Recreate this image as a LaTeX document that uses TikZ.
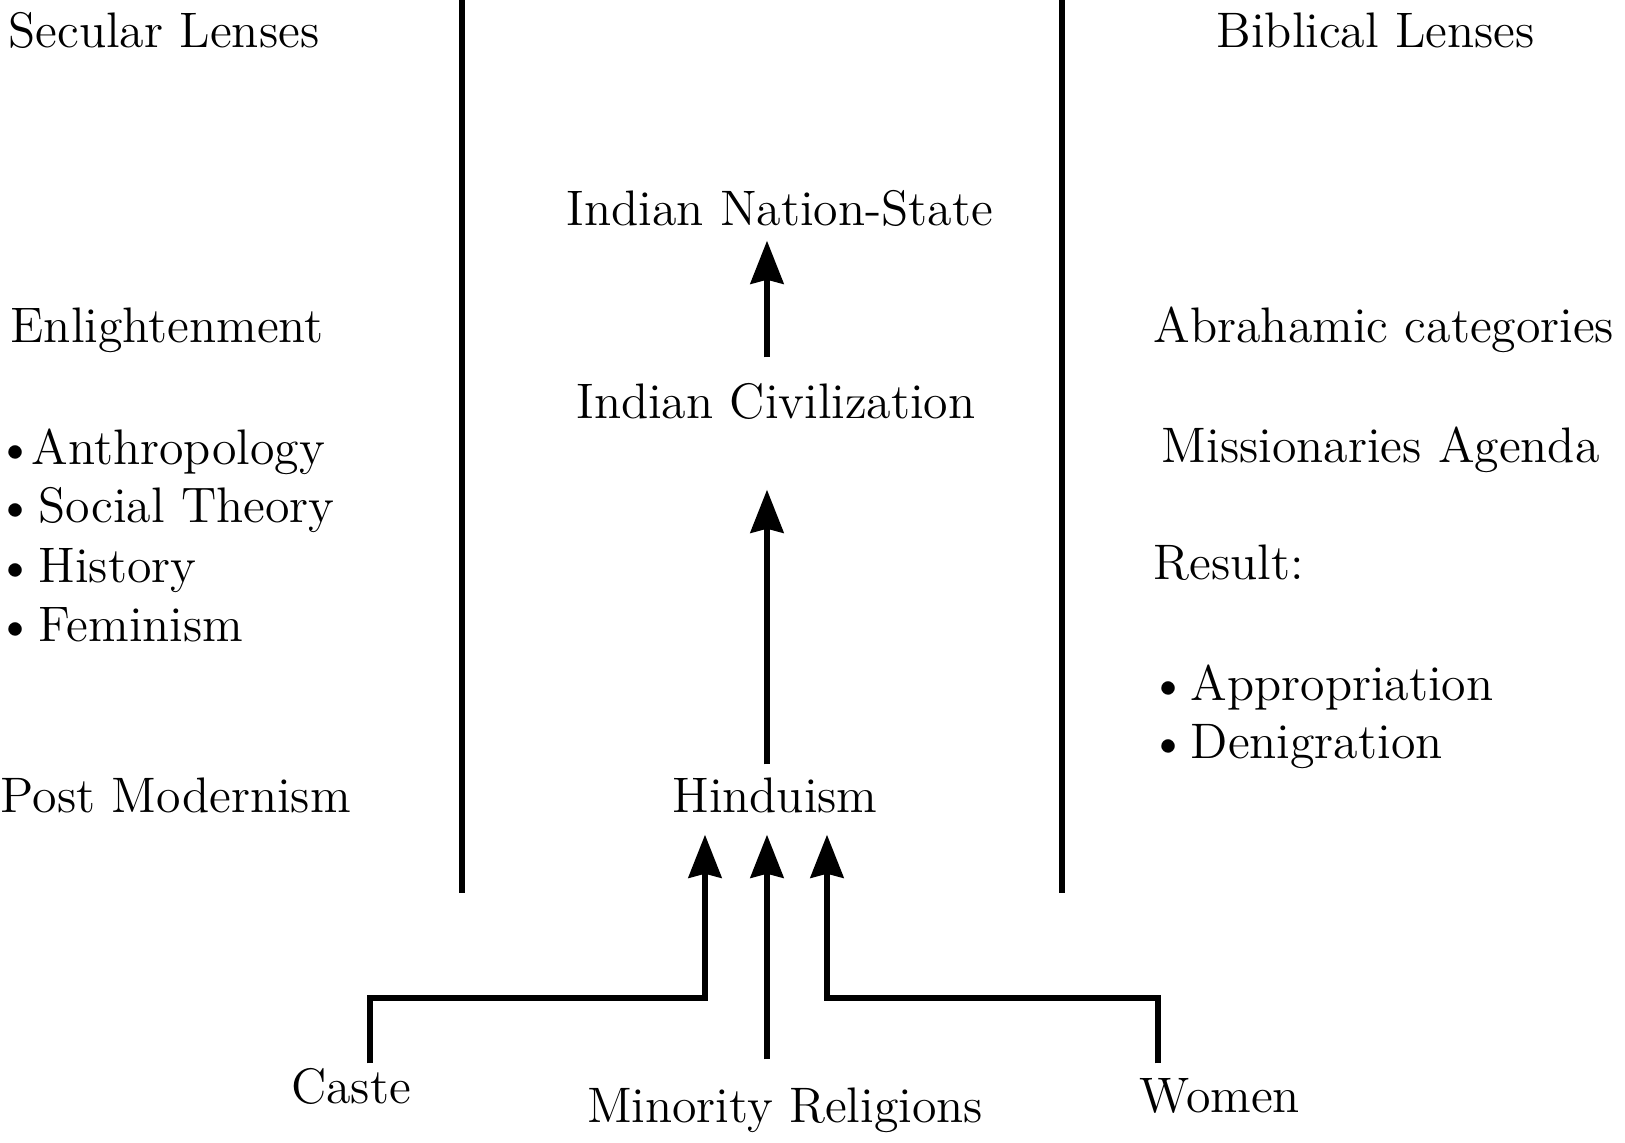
\documentclass[tikz,border=0pt]{standalone}
\usetikzlibrary{arrows.meta}
\begin{document}
\begin{tikzpicture}[
  txt/.style={inner sep=0pt,font=\fontsize{14.2}{16.5}\selectfont,text height=3.5mm,text depth=1.1mm},
  flow/.style={-{Stealth[length=4.3mm,width=3.3mm,inset=0.4mm]},line width=0.6mm},
  divider/.style={line width=0.6mm}
]
\useasboundingbox (0,0) rectangle (16.25,-11.42);
% column rules
\draw[divider] (4.62,0) -- (4.62,-8.93);
\draw[divider] (10.62,0) -- (10.62,-8.93);

% left column
\node[txt,anchor=base west] (secular) at (0.08,-0.47) {Secular Lenses};
\node[txt,anchor=base west] (enlight) at (0.10,-3.42) {Enlightenment};
\node[txt,anchor=base west] (anthro) at (0.08,-4.64) {\hspace{-1.2mm}\textbullet\hspace{-0.3mm}Anthropology};
\node[txt,anchor=base west] (social) at ([yshift=-5.8mm]anthro.base west) {\hspace{-1.2mm}\textbullet\hspace{0.4mm}Social Theory};
\node[txt,anchor=base west] (history) at ([yshift=-6mm]social.base west) {\hspace{-1.2mm}\textbullet\hspace{0.4mm}History};
\node[txt,anchor=base west] (feminism) at ([yshift=-5.9mm]history.base west) {\hspace{-1.2mm}\textbullet\hspace{0.4mm}Feminism};
\node[txt,anchor=base west] (postmod) at (0,-8.12) {Post Modernism};

% right column
\node[txt,anchor=base west] (biblical) at (12.16,-0.47) {Biblical Lenses};
\node[txt,anchor=base west] (abraham) at (11.53,-3.42) {Abrahamic categories};
\node[txt,anchor=base west] (mission) at (11.61,-4.62) {Missionaries Agenda};
\node[txt,anchor=base west] (result) at (11.53,-5.79) {Result:};
\node[txt,anchor=base west] (approp) at (11.61,-7.00) {\hspace{-1.2mm}\textbullet\hspace{0.3mm}Appropriation};
\node[txt,anchor=base west] (denig) at ([yshift=-5.8mm]approp.base west) {\hspace{-1.2mm}\textbullet\hspace{0.3mm}Denigration};

% centre column
\node[txt,anchor=base] (nation) at (7.80,-2.25) {Indian Nation-State};
\node[txt,anchor=base] (civ) at (7.76,-4.18) {Indian Civilization};
\node[txt,anchor=base] (hindu) at (7.75,-8.12) {Hinduism};
\node[txt,anchor=base] (caste) at (3.51,-11.03) {Caste};
\node[txt,anchor=base] (minority) at (7.85,-11.22) {Minority Religions};
\node[txt,anchor=base] (women) at (12.20,-11.12) {Women};

\coordinate (axis) at (7.67,0);
\coordinate (lx) at (7.05,0);
\coordinate (rx) at (8.27,0);
\coordinate (lbend) at (3.70,-9.98);
\coordinate (rbend) at (11.58,-9.98);

\draw[flow,shorten <=2.5mm,shorten >=0.4mm] (axis |- civ.north) -- (axis |- nation.south);
\draw[flow,shorten <=1.2mm,shorten >=6mm] (axis |- hindu.north) -- (axis |- civ.south);
\draw[flow,shorten <=0.4mm,shorten >=1.1mm] (lbend |- caste.north) -- (lbend) -| (lx |- hindu.south);
\draw[flow,shorten <=2.7mm,shorten >=1.1mm] (axis |- minority.north) -- (axis |- hindu.south);
\draw[flow,shorten <=1.3mm,shorten >=1.1mm] (rbend |- women.north) -- (rbend) -| (rx |- hindu.south);
\end{tikzpicture}
\end{document}
